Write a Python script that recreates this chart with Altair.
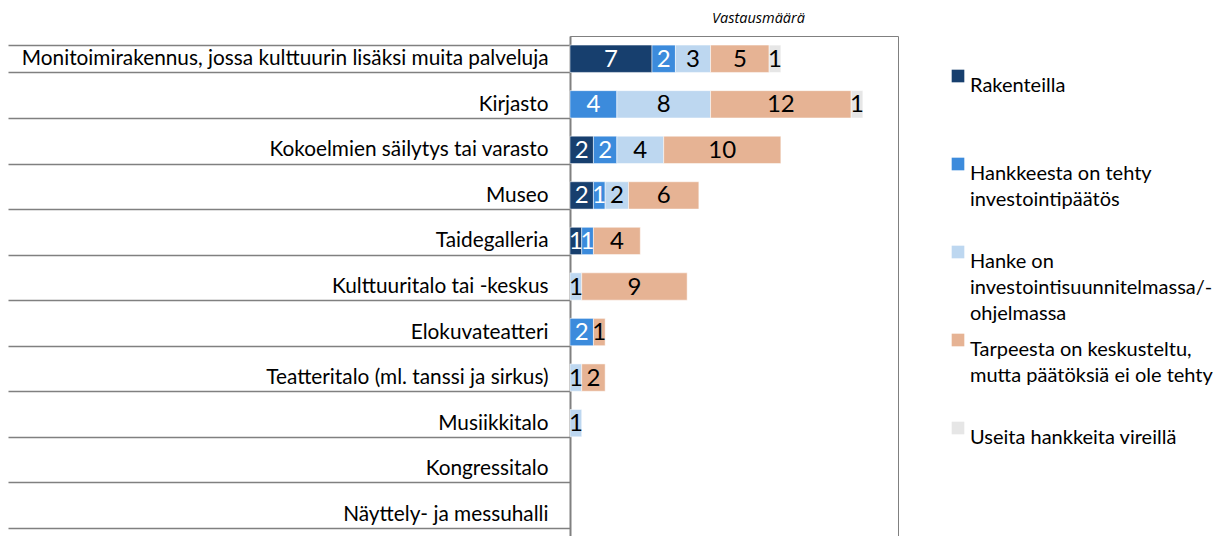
import altair as alt
import pandas as pd

categories = [
    "Monitoimirakennus, jossa kulttuurin lisäksi muita palveluja",
    "Kirjasto",
    "Kokoelmien säilytys tai varasto",
    "Museo",
    "Taidegalleria",
    "Kulttuuritalo tai -keskus",
    "Elokuvateatteri",
    "Teatteritalo (ml. tanssi ja sirkus)",
    "Musiikkitalo",
    "Kongressitalo",
    "Näyttely- ja messuhalli",
]
series = [
    "Rakenteilla",
    "Hankkeesta on tehty|investointipäätös",
    "Hanke on|investointisuunnitelmassa/-|ohjelmassa",
    "Tarpeesta on keskusteltu,|mutta päätöksiä ei ole tehty",
    "Useita hankkeita vireillä",
]
rakenteilla = [7, 0, 2, 2, 1, 0, 0, 0, 0, 0, 0]
investointipaatos = [2, 4, 2, 1, 1, 0, 2, 0, 0, 0, 0]
suunnitelmassa = [3, 8, 4, 2, 0, 1, 0, 1, 1, 0, 0]
keskusteltu = [5, 12, 10, 6, 4, 9, 1, 2, 0, 0, 0]
useita = [1, 1, 0, 0, 0, 0, 0, 0, 0, 0, 0]
colors = ["#173F6E", "#3C8BDC", "#BDD7F0", "#E6B394", "#E6E6E6"]

values = [rakenteilla, investointipaatos, suunnitelmassa, keskusteltu, useita]
rows = []
for si, (s, vals) in enumerate(zip(series, values)):
    for c, v in zip(categories, vals):
        if v > 0:
            rows.append({"cat": c, "series": s, "sidx": si, "value": v})
df = pd.DataFrame(rows)

FONT = "Lato"

base = alt.Chart(df).transform_stack(
    stack="value", groupby=["cat"], as_=["x0", "x1"],
    sort=[alt.SortField("sidx", order="ascending")]
).transform_calculate(mid="(datum.x0 + datum.x1) / 2")

yenc = alt.Y(
    "cat:N",
    sort=categories,
    scale=alt.Scale(domain=categories, paddingInner=0.4, paddingOuter=0.2),
    axis=alt.Axis(
        title=None, tickBand="extent", tickSize=562, tickColor="#808080",
        tickWidth=1.5, labelPadding=-540, labelFont=FONT, labelFontSize=20.8,
        labelColor="black", domainColor="#808080", domainWidth=2,
        labelLimit=700, grid=False,
    ),
)

xscale = alt.Scale(domain=[0, 28], nice=False)

bars = base.mark_bar(stroke="white", strokeWidth=0.5).encode(
    x=alt.X(
        "x0:Q", scale=xscale,
        axis=alt.Axis(
            orient="top", title="Vastausmäärä", labels=False, ticks=False,
            domain=False, grid=False, titleFontStyle="italic",
            titleFontWeight="normal", titleFontSize=14.5, titleFont="Open Sans",
            titleColor="black", titleX=188, titleY=-18, titleBaseline="middle",
        ),
    ),
    x2="x1:Q",
    y=yenc,
    color=alt.Color(
        "series:N",
        scale=alt.Scale(domain=series, range=colors),
        legend=alt.Legend(
            title=None, orient="none", legendX=378, legendY=30,
            symbolType="square", symbolSize=160, symbolStrokeWidth=0,
            labelFont=FONT, labelFontSize=20, labelColor="black",
            labelExpr="split(datum.label, '|')", labelLimit=400,
            labelOffset=2, gridAlign="all", rowPadding=6, padding=0,
            labelBaseline="top",
        ),
    ),
)

labels = base.mark_text(font=FONT, fontSize=24, baseline="middle", dy=1).encode(
    x=alt.X("mid:Q", scale=xscale),
    y=alt.Y("cat:N", sort=categories, scale=alt.Scale(domain=categories)),
    text="value:Q",
    color=alt.condition("datum.sidx < 2", alt.value("white"), alt.value("black")),
)

chart = alt.layer(bars, labels).properties(
    width=328, height=501,
    autosize=alt.AutoSizeParams(type="none"),
    padding={"left": 562, "top": 28, "right": 318, "bottom": 0},
).configure(
    style={"guide-label": {"lineHeight": 26}},
    view=alt.ViewConfig(stroke="#808080", strokeWidth=1),
)

chart.save("out.html", embed_options={"renderer": "svg", "actions": False})
